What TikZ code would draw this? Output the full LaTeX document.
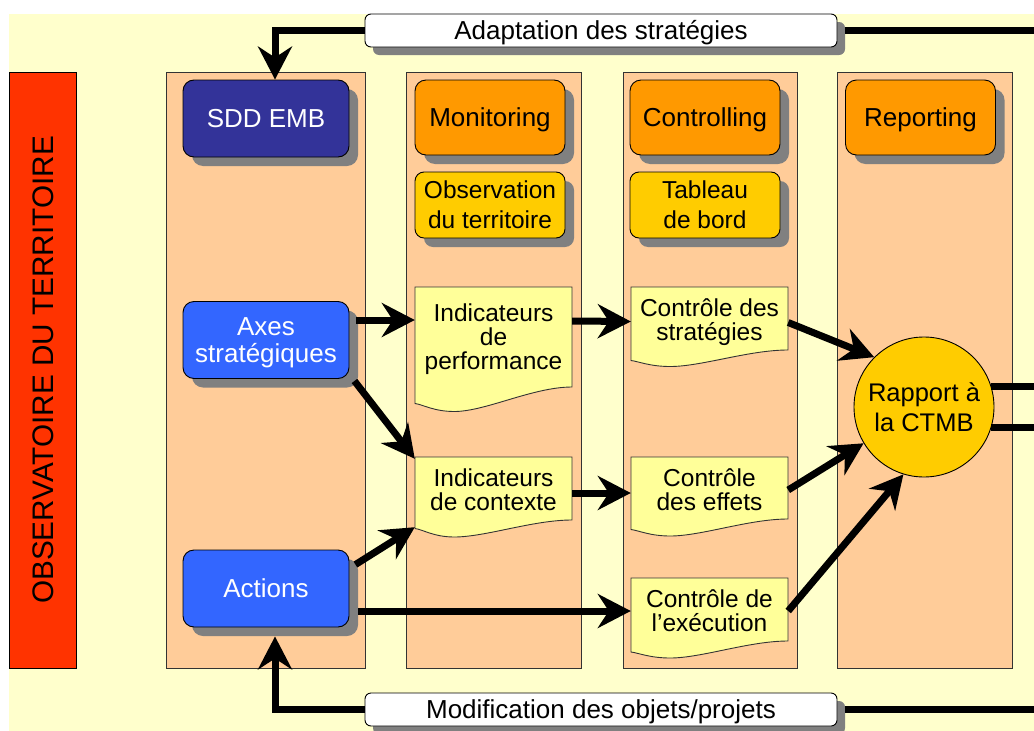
\documentclass[tikz,border=0pt]{standalone}
\usepackage{fontspec}
\setmainfont{Liberation Sans}
\usetikzlibrary{arrows.meta,shadows,calc}
\definecolor{bgyellow}{HTML}{FFFFCC}
\definecolor{peach}{HTML}{FFCC99}
\definecolor{redbar}{HTML}{FF3300}
\definecolor{navy}{HTML}{333399}
\definecolor{blueA}{HTML}{3366FF}
\definecolor{orangeA}{HTML}{FF9900}
\definecolor{gold}{HTML}{FFCC00}
\definecolor{docyellow}{HTML}{FFFF99}
\definecolor{shgray}{HTML}{808080}
\newcommand\nodp[1]{\setbox0=\hbox{#1}\dp0=0pt\box0}
\tikzset{
  colbox/.style={draw=black!80, fill=peach, line width=0.9pt},
  shad/.style={drop shadow={shadow xshift=9pt, shadow yshift=-9pt, fill=shgray, opacity=1}},
  oneline/.style={text height=18.7pt, text depth=0pt},
  bigbox/.style={shad, draw=black, line width=0.9pt, rounded corners=11pt, minimum width=166pt, minimum height=77pt, align=center, inner sep=0pt, font=\fontsize{26}{27}\selectfont},
  headbox/.style={shad, draw=black, line width=0.9pt, rounded corners=11pt, fill=orangeA, minimum width=150pt, minimum height=75pt, align=center, inner sep=0pt, font=\fontsize{26}{27}\selectfont, oneline},
  subbox/.style={shad, draw=black, line width=0.9pt, rounded corners=9pt, fill=gold, minimum width=150pt, minimum height=66pt, align=center, inner sep=0pt, font=\fontsize{24.5}{30}\selectfont},
  bandbox/.style={drop shadow={shadow xshift=8pt, shadow yshift=-8pt, fill=shgray, opacity=1}, draw=black, line width=0.9pt, fill=white, rounded corners=6pt, minimum width=472pt, minimum height=33pt, inner sep=0pt, font=\fontsize{26}{27}\selectfont, oneline},
  docline/.style={draw=black!80, fill=docyellow, line width=0.9pt},
  doctext/.style={inner sep=0pt, align=center, font=\fontsize{24.5}{24}\selectfont},
  thickline/.style={line width=7pt, line join=miter},
  arr/.style={thickline, -{Stealth[length=33pt, width=34pt, inset=11pt]}},
}
\newcommand\docshape[6]{% x1, x2, top, yright, dleft, dmin
  \filldraw[docline] (#1,#3) -- (#2,#3) -- (#2,#4)
    .. controls ({#1+0.75*(#2-#1)},#4) and ({#1+0.45*(#2-#1)},{#4+#6}) .. ({#1+0.25*(#2-#1)},{#4+#6})
    .. controls ({#1+0.12*(#2-#1)},{#4+#6}) and ({#1+0.05*(#2-#1)},{#4+#5+1}) .. (#1,{#4+#5}) -- cycle;}
\begin{document}
\begin{tikzpicture}[x=1pt,y=-1pt]
\useasboundingbox (0,0) rectangle (1034,731);
\clip (0,0) rectangle (1034,731);
% background
\fill[bgyellow] (9,14) rectangle (1045,745);
% red bar
\node[draw=black, line width=0.9pt, fill=redbar, rotate=90, minimum width=596pt, minimum height=67pt, inner sep=0pt, font=\fontsize{29.7}{30}\selectfont, text height=21.3pt, text depth=0pt] (obsterr) at (42.5,370) {OBSERVATOIRE DU TERRITOIRE};
% columns
\draw[colbox] (166,72) rectangle (365,668);
\draw[colbox] (406,72) rectangle (581,668);
\draw[colbox] (623,72) rectangle (797,668);
\draw[colbox] (837,72) rectangle (1012,668);
% left column boxes
\node[bigbox, fill=navy, text=white, oneline] (sdd) at (266,118.5) {SDD EMB};
\node[bigbox, fill=blueA, text=white] (axes) at (266,340) {Axes\\\nodp{stratégiques}};
\node[bigbox, fill=blueA, text=white, oneline] (act) at (266,588.5) {Actions};
% headers
\node[headbox] (mon) at (490,117.5) {Monitoring};
\node[headbox] (ctl) at (705,117.5) {Controlling};
\node[headbox] (rep) at (920.5,117.5) {Reporting};
\node[subbox] (obs) at (490,205) {Observation\\du territoire};
\node[subbox] (tab) at (705,205) {Tableau\\de bord};
% documents
\docshape{415}{572}{287}{387}{16.5}{24.5}
\node[doctext, minimum width=157pt, minimum height=100pt] (ip) at (493.5,339.5) {Indicateurs\\de\\performance};
\docshape{415}{572}{457}{520}{8.5}{17}
\node[doctext, minimum width=157pt, minimum height=63pt] (ic) at (493.5,490) {Indicateurs\\de contexte};
\docshape{631}{788}{287}{350}{10.5}{16.5}
\node[doctext, minimum width=157pt, minimum height=63pt] (cs) at (709.5,322) {Contrôle des\\stratégies};
\docshape{631}{788}{457}{519}{10.5}{17}
\node[doctext, minimum width=157pt, minimum height=62pt] (ce) at (709.5,490) {Contrôle\\des effets};
\docshape{631}{788}{578}{641}{11}{17}
\node[doctext, minimum width=157pt, minimum height=63pt] (ex) at (709.5,611) {Contrôle de\\l’exécution};
% circle
\node[circle, draw=black, line width=0.9pt, fill=gold, minimum size=140pt, inner sep=0pt, align=center, font=\fontsize{25.5}{30}\selectfont] (rap) at (924,407) {Rapport à\\la CTMB};
% bands
\node[bandbox] (adapt) at (601,30.5) {Adaptation des stratégies};
\node[bandbox] (mod) at (601,709.5) {Modification des objets/projets};
% feedback loops
\draw[arr] (adapt.west) -| ([xshift=9pt]sdd.north);
\draw[arr] (mod.west) -| ($(act.south)+(9,9)$);
\draw[thickline] ($(adapt.east)+(8,0)$) -- (1045,30.5) |- (rap.17);
\draw[thickline] ($(mod.east)+(8,0)$) -- (1045,709.5) |- (rap.-17);
% flow arrows
\draw[arr] ($(axes.east)+(7,-20)$) -- ($(ip.west)+(0,-19.5)$);
\draw[arr] ($(ip.east)+(0,-18.5)$) -- ($(cs.west)+(0,-0.5)$);
\draw[arr] ($(axes.south east)+(5,2)$) -- ($(ic.north west)+(0,0.5)$);
\draw[arr] ($(act.north east)+(6,15)$) -- ($(ic.south west)+(0,5.5)$);
\draw[arr] ($(ic.east)+(0,3)$) -- ($(ce.west)+(0,3)$);
\draw[arr] ($(act.east)+(9,22.5)$) -- (ex.west);
\draw[arr] ($(cs.east)+(0,0.5)$) -- (rap.135);
\draw[arr] (ce.east) -- (rap.211);
\draw[arr] (ex.east) -- (rap.253);
\end{tikzpicture}
\end{document}
